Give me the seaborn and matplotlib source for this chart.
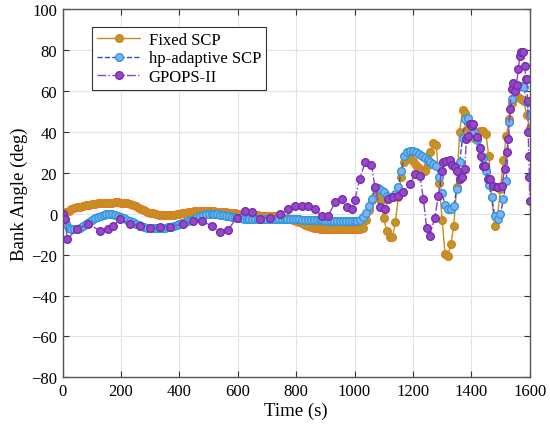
import numpy as np
import pandas as pd
import seaborn as sns
import matplotlib
matplotlib.use("Agg")
import matplotlib.pyplot as plt

# time grid for the two SCP solutions (s)
t_scp = np.arange(0, 1601, 10)

# Fixed SCP bank angle (deg)
fixed_scp = [
    0.0, 0.8, 1.5, 2.1, 2.6, 3.0, 3.4, 3.8, 4.1, 4.4,
    4.6, 4.8, 5.0, 5.1, 5.2, 5.3, 5.4, 5.4, 5.5, 5.5,
    5.4, 5.3, 5.0, 4.6, 4.1, 3.5, 2.9, 2.2, 1.6, 1.0,
    0.5, 0.1, -0.3, -0.6, -0.8, -0.9, -0.9, -0.8, -0.6, -0.4,
    -0.2, 0.1, 0.4, 0.7, 0.9, 1.1, 1.3, 1.4, 1.4, 1.4,
    1.3, 1.2, 1.1, 1.0, 0.9, 0.8, 0.6, 0.5, 0.3, 0.2,
    0.0, -0.2, -0.3, -0.5, -0.6, -0.7, -0.8, -0.9, -1.0, -1.0,
    -1.1, -1.1, -1.2, -1.3, -1.4, -1.6, -1.9, -2.2, -2.6, -3.1,
    -3.6, -4.2, -4.8, -5.4, -5.9, -6.4, -6.8, -7.1, -7.3, -7.5,
    -7.6, -7.7, -7.7, -7.7, -7.7, -7.7, -7.7, -7.7, -7.7, -7.7,
    -7.7, -7.7, -7.7, -7.2, -3.0, 2.0, 6.5, 8.5, 8.0, 6.0,
    -2.0, -8.5, -11.2, -11.5, -4.0, 8.0, 18.0, 25.0, 27.0, 27.0,
    25.5, 24.0, 22.5, 21.5, 21.0, 24.0, 30.0, 34.5, 33.5, 15.0,
    -3.0, -19.5, -20.5, -15.0, -6.0, 13.0, 40.0, 50.5, 49.0, 42.0,
    38.0, 37.0, 38.0, 40.5, 40.5, 39.0, 28.0, 8.0, -6.0, -1.0,
    12.0, 26.0, 38.0, 46.0, 54.0, 57.5, 57.0, 56.0, 55.0, 48.0,
    42.0,
]

# hp-adaptive SCP bank angle (deg)
hp_scp = [
    0.0, -5.0, -6.8, -7.4, -7.6, -7.4, -6.8, -6.0, -5.0, -3.9,
    -3.0, -2.2, -1.5, -1.0, -0.6, -0.3, -0.2, -0.3, -0.6, -1.0,
    -1.6, -2.2, -2.9, -3.6, -4.3, -5.0, -5.6, -6.1, -6.5, -6.8,
    -6.9, -7.0, -7.0, -7.0, -6.9, -6.8, -6.6, -6.3, -6.0, -5.6,
    -5.2, -4.7, -4.2, -3.6, -3.0, -2.4, -1.8, -1.2, -0.7, -0.4,
    -0.2, -0.1, -0.2, -0.4, -0.6, -0.8, -1.0, -1.3, -1.5, -1.8,
    -2.0, -2.2, -2.4, -2.5, -2.6, -2.7, -2.7, -2.7, -2.6, -2.6,
    -2.6, -2.6, -2.6, -2.6, -2.6, -2.6, -2.6, -2.7, -2.7, -2.7,
    -2.8, -2.8, -2.9, -3.0, -3.0, -3.1, -3.2, -3.2, -3.3, -3.3,
    -3.4, -3.4, -3.4, -3.5, -3.5, -3.5, -3.5, -3.5, -3.5, -3.5,
    -3.5, -3.5, -3.2, -1.8, 0.5, 3.5, 7.0, 12.5, 12.3, 11.5,
    10.5, 8.7, 8.0, 8.2, 9.5, 13.0, 21.0, 28.0, 30.0, 30.7,
    30.5, 30.0, 29.0, 28.0, 27.0, 26.0, 25.0, 24.2, 23.4, 18.0,
    10.0, 4.0, 2.5, 2.2, 3.5, 12.0, 25.0, 37.0, 46.0, 46.5,
    44.0, 40.0, 36.0, 32.0, 27.0, 21.0, 14.0, 8.0, -1.0, -2.5,
    0.0, 7.0, 16.0, 45.0, 56.0, 61.0, 62.0, 62.5, 62.0, 54.5,
    48.0,
]

# GPOPS-II solution (nodes are not uniform in time)
t_gpops = [
    0, 8, 16, 48, 88, 128, 156, 173, 196, 230, 265, 299, 333, 368, 413,
    448, 476, 510, 539, 567, 596, 625, 648, 676, 710, 744, 773, 796, 819,
    841, 864, 887, 910, 933, 956, 975, 990, 1001, 1018, 1036, 1058, 1070,
    1087, 1104, 1116, 1133, 1150, 1167, 1190, 1207, 1224, 1236, 1247, 1258,
    1275, 1287, 1298, 1304, 1315, 1327, 1333, 1344, 1350, 1361, 1367, 1378,
    1383, 1390, 1395, 1401, 1407, 1418, 1430, 1435, 1441, 1447, 1458, 1464,
    1475, 1487, 1492, 1504, 1515, 1521, 1527, 1532, 1538, 1544, 1550, 1555,
    1561, 1567, 1572, 1578, 1583, 1587, 1590, 1593, 1595, 1597, 1599, 1600,
]
gpops = [
    0.0, -2.7, -12.5, -7.6, -5.0, -8.4, -7.6, -6.0, -2.7, -5.0, -6.0, -6.8,
    -6.3, -6.3, -5.0, -3.5, -3.5, -6.0, -8.9, -8.0, -1.9, 1.4, 0.6, -2.4,
    -1.9, -0.2, 2.2, 3.8, 3.8, 3.8, 2.5, -1.0, -1.0, 5.5, 7.0, 3.0, 2.2,
    6.8, 17.0, 25.0, 24.0, 12.8, 3.0, 2.2, 7.0, 8.0, 8.7, 10.4, 14.4, 19.3,
    18.5, 7.0, -6.8, -10.8, -1.9, 8.7, 21.0, 25.0, 25.8, 26.0, 24.0, 22.6,
    21.0, 17.0, 17.7, 21.8, 36.4, 38.0, 43.8, 43.0, 43.8, 37.5, 32.0, 28.3,
    23.4, 23.4, 17.0, 17.0, 13.6, 12.8, 12.8, 13.6, 21.8, 30.0, 36.4, 51.0,
    61.0, 64.0, 60.0, 63.0, 70.7, 77.0, 78.8, 79.0, 72.0, 66.0, 65.8, 55.0,
    40.0, 28.0, 18.0, 6.0,
]

df_fixed = pd.DataFrame({"t": t_scp, "bank": fixed_scp})
df_hp = pd.DataFrame({"t": t_scp, "bank": hp_scp})
df_gp = pd.DataFrame({"t": t_gpops, "bank": gpops})

sns.set_theme(style="whitegrid")
plt.rcParams["font.family"] = ["Liberation Serif", "DejaVu Serif"]
plt.rcParams["axes.unicode_minus"] = True
plt.rcParams["text.color"] = "black"
plt.rcParams["axes.labelcolor"] = "black"

fig = plt.figure(figsize=(5.5, 4.31), dpi=100)
ax = fig.add_axes([0.114, 0.122, 0.849, 0.855])

sns.lineplot(data=df_fixed, x="t", y="bank", ax=ax, sort=False,
             color="#D08A1C", linewidth=1.0, linestyle="-",
             marker="o", markersize=5.5, markerfacecolor="#ABA02C",
             markeredgecolor="#E57A1E", markeredgewidth=1.0,
             label="Fixed SCP")
sns.lineplot(data=df_hp, x="t", y="bank", ax=ax, sort=False,
             color="#2E4FC4", linewidth=1.0, linestyle="--",
             marker="o", markersize=5.5, markerfacecolor="#86AEF2",
             markeredgecolor="#2A9AD8", markeredgewidth=1.0,
             label="hp-adaptive SCP")
sns.lineplot(data=df_gp, x="t", y="bank", ax=ax, sort=False,
             color="#8A44C8", linewidth=1.0, linestyle="-.",
             marker="o", markersize=5.5, markerfacecolor="#9A46CC",
             markeredgecolor="#7230A8", markeredgewidth=1.0,
             label="GPOPS-II")

ax.set_xlim(0, 1600)
ax.set_ylim(-80, 100)
ax.set_xticks(np.arange(0, 1601, 200))
ax.set_yticks(np.arange(-80, 101, 20))
ax.set_xlabel("Time (s)", fontsize=13.5, labelpad=2)
ax.set_ylabel("Bank Angle (deg)", fontsize=13.5, labelpad=2)
ax.tick_params(axis="both", labelsize=12, direction="in", length=4,
               width=0.8, color="#333333", labelcolor="black",
               top=True, right=True, bottom=True, left=True, pad=4)
ax.grid(True, color="#E3E3E3", linewidth=0.8)
for s in ax.spines.values():
    s.set_color("#555555")
    s.set_linewidth(1.0)

leg = ax.legend(loc="upper left", bbox_to_anchor=(0.063, 0.951),
                borderaxespad=0, fontsize=12, frameon=True, fancybox=False,
                framealpha=1, edgecolor="#333333", handlelength=2.6,
                handletextpad=0.5, labelspacing=0.15, borderpad=0.3)
leg.get_frame().set_linewidth(0.8)

fig.savefig("out.png", dpi=100)
